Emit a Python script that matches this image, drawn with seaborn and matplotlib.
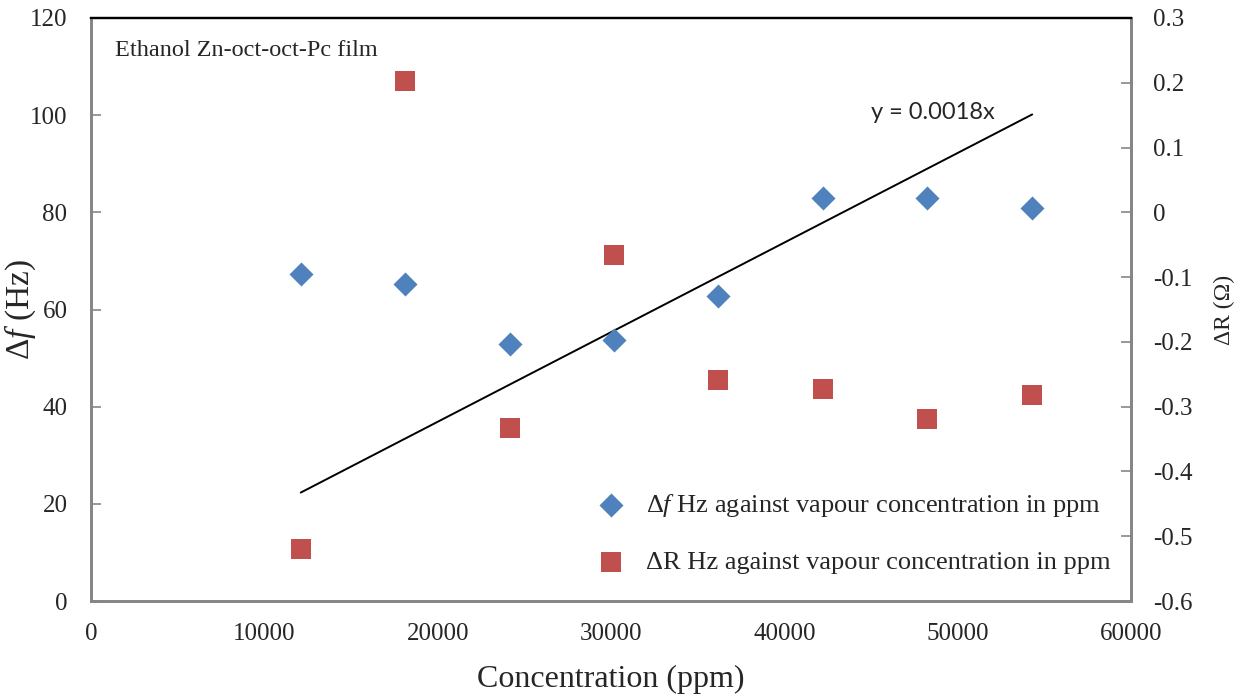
from matplotlib import pyplot as plt
import seaborn as sns
import numpy as np
import pandas as pd

# concentration in ppm
conc = [12100, 18100, 24150, 30200, 36200, 42250, 48250, 54300]
# delta f (Hz), left axis
delta_f = [67.3, 65.3, 52.9, 53.7, 62.8, 83.0, 83.0, 80.9]
# delta R (ohm), right axis
delta_r = [-0.520, 0.203, -0.333, -0.066, -0.259, -0.273, -0.319, -0.282]

x_ticks = [0, 10000, 20000, 30000, 40000, 50000, 60000]
left_ticks = [0, 20, 40, 60, 80, 100, 120]
right_ticks = [-0.6, -0.5, -0.4, -0.3, -0.2, -0.1, 0, 0.1, 0.2, 0.3]

BLUE = '#4F81BD'
RED = '#C0504D'
GREY = '#868686'


def plot():
    sns.set_style('white')
    plt.rcParams['font.family'] = ['Liberation Serif', 'DejaVu Serif']
    plt.rcParams['mathtext.fontset'] = 'custom'
    plt.rcParams['mathtext.rm'] = 'Liberation Serif'
    plt.rcParams['mathtext.it'] = 'Liberation Serif:italic'

    fig = plt.figure(figsize=(12.46, 6.94), dpi=100)
    ax = fig.add_axes([91 / 1246, 1 - 601 / 694, 1040 / 1246, 583 / 694])
    ax2 = ax.twinx()

    df = pd.DataFrame({'conc': conc, 'df': delta_f, 'dr': delta_r})

    # linear trend through the origin for delta f
    x = np.array(conc, dtype=float)
    y = np.array(delta_f, dtype=float)
    slope = (x * y).sum() / (x * x).sum()
    trend = pd.DataFrame({'x': [x.min(), x.max()],
                          'y': [slope * x.min(), slope * x.max()]})
    sns.lineplot(data=trend, x='x', y='y', ax=ax, color='black', lw=1.4)

    sns.scatterplot(data=df, x='conc', y='df', ax=ax, marker='D', s=150,
                    color=BLUE, linewidth=0, zorder=3,
                    label='Δ$\\it{f}$ Hz against vapour concentration in ppm')
    sns.scatterplot(data=df, x='conc', y='dr', ax=ax2, marker='s', s=220,
                    color=RED, linewidth=0, zorder=3,
                    label='ΔR Hz against vapour concentration in ppm')

    ax.text(45000, 100.5, 'y = 0.{:04d}x'.format(int(round(slope * 1e4))),
            family='Lato', fontsize=17, va='center')
    ax.text(0.023, 0.945, 'Ethanol Zn-oct-oct-Pc film', transform=ax.transAxes,
            fontsize=17.5, va='center')

    ax.set_xlim(0, 60000)
    ax.set_ylim(0, 120)
    ax2.set_ylim(-0.6, 0.3)
    ax.set_xticks(x_ticks)
    ax.set_yticks(left_ticks)
    ax2.set_yticks(right_ticks)
    ax2.set_yticklabels(['{:g}'.format(t) for t in right_ticks])

    ax.set_xlabel('Concentration (ppm)', fontsize=23, labelpad=14)
    ax.set_ylabel('Δ$\\it{f}$ (Hz)', fontsize=24)
    ax.yaxis.set_label_coords(-0.051, 0.5)
    ax2.set_ylabel('ΔR (Ω)', fontsize=17, labelpad=15)

    ax.tick_params(axis='both', direction='in', length=7, width=1.2,
                   color=GREY, labelsize=18, pad=17)
    ax.tick_params(axis='x', pad=16)
    ax2.tick_params(axis='y', direction='in', length=7, width=1.2,
                    color=GREY, labelsize=18, pad=16)

    for a in (ax, ax2):
        for side in ('left', 'right', 'bottom'):
            a.spines[side].set_color(GREY)
            a.spines[side].set_linewidth(2)
        a.spines['top'].set_color('black')
        a.spines['top'].set_linewidth(1.6)

    ax.get_legend().remove()
    ax2.get_legend().remove()
    h1, l1 = ax.get_legend_handles_labels()
    h2, l2 = ax2.get_legend_handles_labels()
    ax2.legend(h1[-1:] + h2, l1[-1:] + l2, loc='lower left',
               bbox_to_anchor=(0.452, 0.005), frameon=False, fontsize=19,
               labelspacing=1.2, handletextpad=0.3)

    plt.savefig('out.png', dpi=100)


if __name__ == "__main__":
    plot()
